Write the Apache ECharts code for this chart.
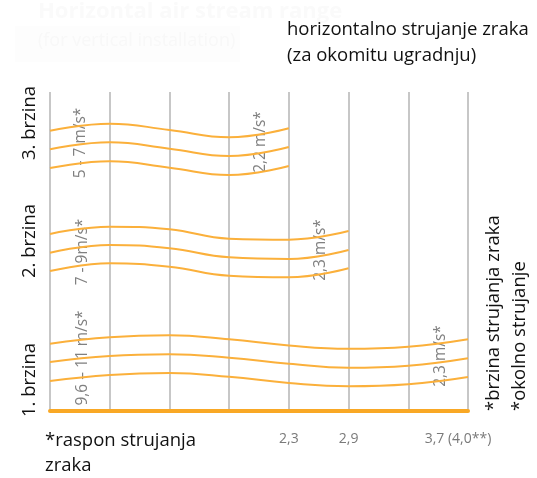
<!DOCTYPE html>
<html>
<head>
<meta charset="utf-8">
<script src="https://cdn.jsdelivr.net/npm/echarts@6.0.0/dist/echarts.min.js"></script>
<style>html,body{margin:0;padding:0;background:#fff}#c{width:537px;height:478px}</style>
</head>
<body>
<div id="c"></div>
<script>
// column positions (grid lines 0..7)
const tickLabels = ['', '', '', '', '2,3', '2,9', '', '3,7 (4,0**)'];
const xSpeed3 = [0, 1, 2, 3, 4];
const xSpeed2 = [0, 1, 2, 3, 4, 5];
const xSpeed1 = [0, 1, 2, 3, 4, 5, 6, 7];
// heights of the stream lines above the base line, read at each grid line
const speed3Top = [280.3, 287.3, 281, 273.7, 282.7];
const speed3Mid = [261.7, 268.7, 262.3, 255, 264];
const speed3Low = [243, 249.7, 243.3, 236, 245];
const speed2Top = [177, 184.3, 181.7, 172.3, 171.3, 180];
const speed2Mid = [158.3, 166, 162.7, 153.7, 152, 161];
const speed2Low = [140, 147.7, 144.3, 135.3, 133.7, 142.7];
const speed1Top = [67.3, 73.7, 75.7, 71.7, 65.5, 62.3, 64.3, 71.7];
const speed1Mid = [49, 55, 56.7, 53.3, 47.3, 43.3, 45.3, 52.7];
const speed1Low = [30, 36, 38, 34.3, 28, 24.7, 26.7, 34];

const ORANGE = '#fbb03b';
const FONT = '"Open Sans", sans-serif';
const zip = (xs, ys) => xs.map((x, i) => [x, ys[i]]);
const wave = (xs, ys) => ({
  type: 'line', data: zip(xs, ys), smooth: 0.45, showSymbol: false, silent: true,
  lineStyle: { color: ORANGE, width: 2 }, itemStyle: { color: ORANGE }
});

const chart = echarts.init(document.getElementById('c'), null, { renderer: 'canvas' });

const rotText = (text, x, y, size, color, align) => ({
  type: 'text', x: x, y: y, rotation: Math.PI / 2, silent: true,
  style: { text: text, fill: color, font: size + 'px ' + FONT, align: align || 'center', verticalAlign: 'middle' }
});
const flatText = (text, x, y, size, color, weight) => ({
  type: 'text', x: x, y: y, silent: true,
  style: { text: text, fill: color, font: (weight || 'normal') + ' ' + size + 'px ' + FONT, align: 'left', verticalAlign: 'middle' }
});

chart.setOption({
  animation: false,
  backgroundColor: '#ffffff',
  grid: { left: 50, right: 69, top: 92, bottom: 67 },
  xAxis: {
    type: 'value', min: 0, max: 7, interval: 1,
    axisLine: { show: true, lineStyle: { color: '#f9a825', width: 4 } },
    axisTick: { show: false },
    splitLine: { show: true, lineStyle: { color: '#b4b4b4', width: 1.5 } },
    axisLabel: {
      margin: 21, color: '#7a7a7a', fontSize: 14, fontFamily: FONT,
      formatter: v => {
        const t = tickLabels[Math.round(v)] || '';
        return Math.round(v) === 7 && t ? '{s|' + t + '}' : t;
      },
      rich: { s: { color: '#7a7a7a', fontSize: 14, fontFamily: FONT, padding: [0, 20, 0, 0] } }
    }
  },
  yAxis: { type: 'value', min: 0, max: 319, show: false, splitLine: { show: false } },
  series: [
    wave(xSpeed3, speed3Top), wave(xSpeed3, speed3Mid), wave(xSpeed3, speed3Low),
    wave(xSpeed2, speed2Top), wave(xSpeed2, speed2Mid), wave(xSpeed2, speed2Low),
    wave(xSpeed1, speed1Top), wave(xSpeed1, speed1Mid), wave(xSpeed1, speed1Low)
  ],
  graphic: [
    { type: 'rect', shape: { x: 15, y: 26, width: 225, height: 36 }, style: { fill: '#fdfdfd' }, silent: true },
    flatText('Horizontal air stream range', 38, 12, 22, '#fafafa', 'bold'),
    flatText('(for vertical installation)', 38, 41, 18, '#f8f8f8'),
    flatText('horizontalno strujanje zraka', 287, 30, 18.5, '#111111'),
    flatText('(za okomitu ugradnju)', 287, 56, 18.5, '#111111'),
    rotText('3. brzina', 30, 123, 18.5, '#111111'),
    rotText('2. brzina', 30, 241, 18.5, '#111111'),
    rotText('1. brzina', 30, 380, 18.5, '#111111'),
    rotText('5 - 7 m/s*', 81, 143, 15.5, '#808080'),
    rotText('2,2 m/s*', 261, 142, 15.5, '#808080'),
    rotText('7 - 9m/s*', 83, 252, 15.5, '#808080'),
    rotText('2,3 m/s*', 321, 250, 15.5, '#808080'),
    rotText('9,6 \u2013 11 m/s*', 83, 358, 15.5, '#808080'),
    rotText('2,3 m/s*', 441, 356, 15.5, '#808080'),
    rotText('*brzina strujanja zraka', 494, 411, 18.5, '#111111', 'left'),
    rotText('*okolno strujanje', 520, 411, 18.5, '#111111', 'left'),
    flatText('*raspon strujanja', 45, 441, 18.5, '#111111'),
    flatText('zraka', 45, 466, 18.5, '#111111')
  ]
});
</script>
</body>
</html>
